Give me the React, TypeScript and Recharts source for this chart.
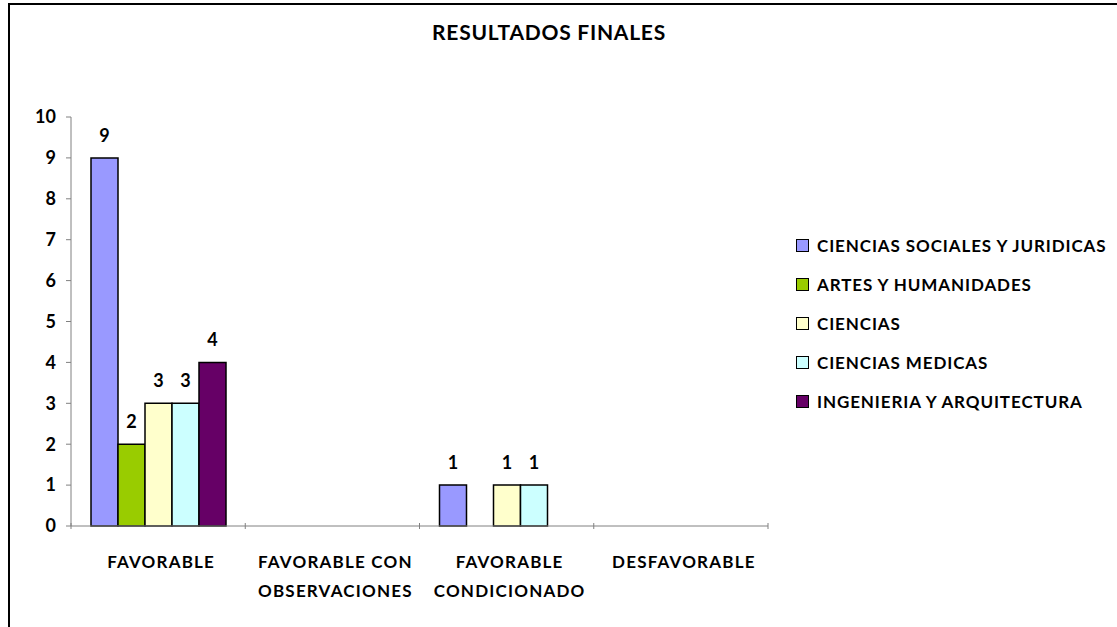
import { BarChart, Bar, XAxis, YAxis, LabelList } from 'recharts';

const CATEGORIES = ['FAVORABLE', 'FAVORABLE CON OBSERVACIONES', 'FAVORABLE CONDICIONADO', 'DESFAVORABLE'];
const CATEGORY_LINES = [['FAVORABLE'], ['FAVORABLE CON', 'OBSERVACIONES'], ['FAVORABLE', 'CONDICIONADO'], ['DESFAVORABLE']];

const SOCIALES = [9, 0, 1, 0];
const ARTES = [2, 0, 0, 0];
const CIENCIAS = [3, 0, 1, 0];
const MEDICAS = [3, 0, 1, 0];
const INGENIERIA = [4, 0, 0, 0];

const SERIES = [
  { key: 'sociales', name: 'CIENCIAS SOCIALES Y JURIDICAS', values: SOCIALES, color: '#9999FF' },
  { key: 'artes', name: 'ARTES Y HUMANIDADES', values: ARTES, color: '#99CC00' },
  { key: 'ciencias', name: 'CIENCIAS', values: CIENCIAS, color: '#FFFFCC' },
  { key: 'medicas', name: 'CIENCIAS MEDICAS', values: MEDICAS, color: '#CCFFFF' },
  { key: 'ingenieria', name: 'INGENIERIA Y ARQUITECTURA', values: INGENIERIA, color: '#660066' },
];

const Y_TICKS = [0, 1, 2, 3, 4, 5, 6, 7, 8, 9, 10];

const data = CATEGORIES.map((c, i) => {
  const row: any = { name: c, idx: i };
  SERIES.forEach((s) => (row[s.key] = s.values[i]));
  return row;
});

const FONT = 'Lato, "Liberation Sans", sans-serif';
const W = 1117;
const H = 627;
const PLOT_LEFT = 71;
const PLOT_RIGHT = 768;
const HALF_BAND = (PLOT_RIGHT - PLOT_LEFT) / CATEGORIES.length / 2;

const CategoryTick = ({ x, y, payload, index }: any) => {
  const i = payload.index ?? index;
  const lines = CATEGORY_LINES[i] || [payload.value];
  const left = x - HALF_BAND;
  const right = x + HALF_BAND;
  return (
    <g>
      <line x1={left} x2={left} y1={y - 5} y2={y + 1} stroke="#808080" />
      {i === CATEGORIES.length - 1 && <line x1={right} x2={right} y1={y - 5} y2={y + 1} stroke="#808080" />}
      <text
        x={x + 3}
        y={y + 40}
        textAnchor="middle"
        fontFamily={FONT}
        fontWeight="bold"
        fontSize={17}
        letterSpacing={1.2}
        fill="#000"
      >
        {lines.map((l: string, k: number) => (
          <tspan key={k} x={x + 3} dy={k === 0 ? 0 : 29}>
            {l}
          </tspan>
        ))}
      </text>
    </g>
  );
};

const renderValue = (props: any) => {
  const { x, y, width, value } = props;
  if (!value) return null;
  return (
    <text x={x + width / 2} y={y - 16} textAnchor="middle" fontFamily={FONT} fontWeight="bold" fontSize={18} fill="#000">
      {value}
    </text>
  );
};

const Legend = () => (
  <div style={{ position: 'absolute', left: 796, top: 226 }}>
    {SERIES.map((s) => (
      <div key={s.key} style={{ display: 'flex', alignItems: 'center', height: 39 }}>
        <div style={{ width: 11, height: 11, background: s.color, border: '1.5px solid #000', marginRight: 8 }} />
        <span
          style={{
            fontFamily: FONT,
            fontWeight: 'bold',
            fontSize: 17,
            letterSpacing: 0.9,
            color: '#000',
            whiteSpace: 'nowrap',
          }}
        >
          {s.name}
        </span>
      </div>
    ))}
  </div>
);

export default function App() {
  return (
    <div style={{ position: 'fixed', left: 0, top: 0, width: W, height: H, background: '#fff', overflow: 'hidden' }}>
      <div
        style={{
          position: 'absolute',
          left: 8,
          top: 3,
          width: W + 20,
          height: H + 20,
          borderLeft: '2px solid #000',
          borderTop: '2px solid #000',
          boxSizing: 'border-box',
        }}
      />
      <div
        style={{
          position: 'absolute',
          left: 0,
          top: 19,
          width: 1098,
          textAlign: 'center',
          fontFamily: FONT,
          fontWeight: 'bold',
          fontSize: 21,
          letterSpacing: 0.75,
          lineHeight: '26px',
          color: '#000',
        }}
      >
        RESULTADOS FINALES
      </div>
      <div style={{ position: 'absolute', left: 0, top: 0 }}>
        <BarChart
          width={W}
          height={H}
          data={data}
          margin={{ top: 117, right: W - PLOT_RIGHT, bottom: 0, left: 0 }}
          barGap={0}
          barSize={27}
        >
          <YAxis
            width={PLOT_LEFT}
            domain={[0, 10]}
            ticks={Y_TICKS}
            interval={0}
            axisLine={{ stroke: '#808080' }}
            tickLine={{ stroke: '#808080' }}
            tickSize={5}
            tickMargin={10}
            tick={{ fontFamily: FONT, fontWeight: 'bold', fontSize: 18, fill: '#000' }}
          />
          <XAxis
            dataKey="name"
            height={101}
            interval={0}
            axisLine={{ stroke: '#808080' }}
            tickLine={false}
            tickSize={0}
            tick={<CategoryTick />}
          />
          {SERIES.map((s) => (
            <Bar key={s.key} dataKey={s.key} name={s.name} fill={s.color} stroke="#000" strokeWidth={1.5} isAnimationActive={false}>
              <LabelList dataKey={s.key} content={renderValue} />
            </Bar>
          ))}
        </BarChart>
      </div>
      <Legend />
    </div>
  );
}
